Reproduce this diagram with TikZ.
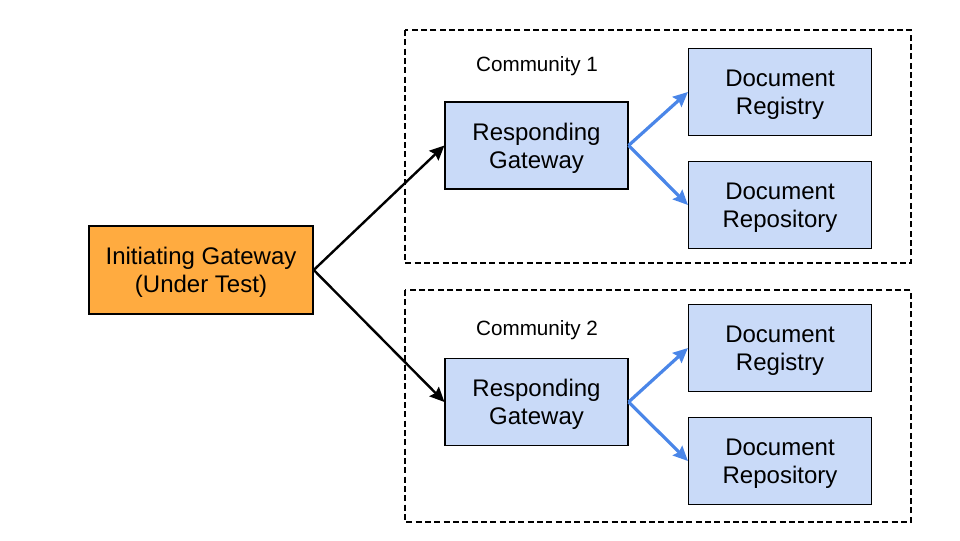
\documentclass[tikz,border=0pt]{standalone}
\usepackage{fontspec}
\setmainfont{Liberation Sans}
\usepackage{tikz}
\usetikzlibrary{arrows.meta,positioning}

\definecolor{gwOrange}{HTML}{FFAB40}
\definecolor{gwBlue}{HTML}{C9DAF8}
\definecolor{arBlue}{HTML}{4A86E8}

\begin{document}
\begin{tikzpicture}[
                    x=0.75pt,
                    y=-0.75pt,
                    >={Stealth[length=11pt,width=10pt,inset=1.5pt]},
                    semithick
                ]
                \tikzstyle{every node}=[font=\fontsize{18}{21}\selectfont]
                \tikzstyle{box}=[draw=black,line width=1.1pt,align=center,inner sep=0pt,
                                 minimum width=137pt,minimum height=65pt,fill=gwBlue,
                                 text depth=-2pt]
                \tikzstyle{init}=[box,fill=gwOrange,minimum width=168pt,minimum height=66pt]
                \tikzstyle{community}=[draw=black,line width=1.1pt,dash pattern=on 4.5pt off 2.5pt]
                \tikzstyle{call}=[->,line width=1.8pt,black]
                \tikzstyle{store}=[->,line width=2.4pt,arBlue]

                \useasboundingbox (0,0) rectangle (960,540);

                \draw[community] (405,30) rectangle (911,263);
                \draw[community] (405,290) rectangle (911,522);

                \node (C1) at (537,66) {\fontsize{15.5}{18}\selectfont Community 1};
                \node (C2) at (537,330) {\fontsize{15.5}{18}\selectfont Community 2};

                \node[init] (IG) at (201,270) {Initiating Gateway\\(Under Test)};

                \node[box] (RG1) at (536.5,145.5) {Responding\\Gateway};
                \node[box] (DR1) at (780,92) {Document\\Registry};
                \node[box] (DP1) at (780,205) {Document\\Repository};

                \node[box] (RG2) at (536.5,402) {Responding\\Gateway};
                \node[box] (DR2) at (780,348) {Document\\Registry};
                \node[box] (DP2) at (780,461) {Document\\Repository};

                \draw[call] (IG.east) -- (RG1.west);
                \draw[call] (IG.east) -- (RG2.west);

                \draw[store] (RG1.east) -- (DR1.west);
                \draw[store] (RG1.east) -- (DP1.west);
                \draw[store] (RG2.east) -- (DR2.west);
                \draw[store] (RG2.east) -- (DP2.west);

            \end{tikzpicture}
\end{document}
